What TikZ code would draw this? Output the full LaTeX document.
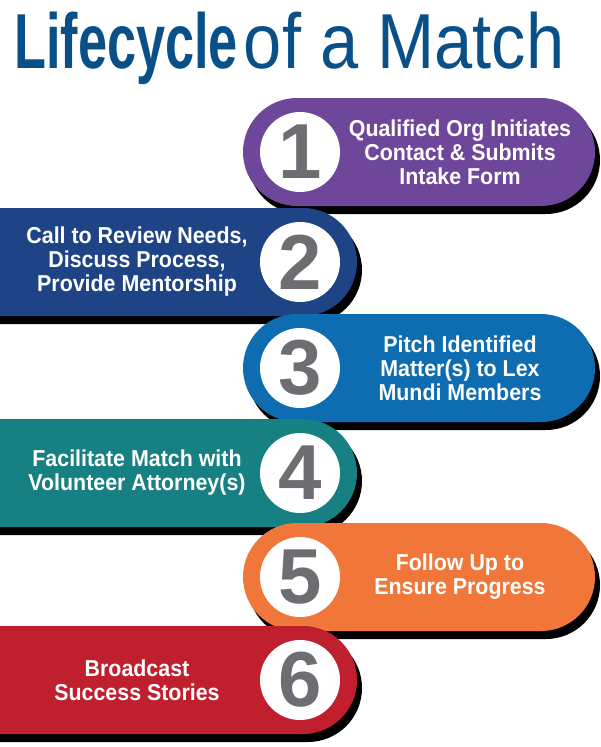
\documentclass[tikz,border=0pt]{standalone}
\usepackage{fontspec}
\setmainfont{Liberation Sans}
\definecolor{tblue}{HTML}{0A5088}
\definecolor{c1}{HTML}{6E479B}
\definecolor{c2}{HTML}{1E4486}
\definecolor{c3}{HTML}{0E6DB0}
\definecolor{c4}{HTML}{178082}
\definecolor{c5}{HTML}{F0763A}
\definecolor{c6}{HTML}{C0202E}
\definecolor{numgray}{HTML}{6D6E71}
\tikzset{
  lbl/.style={text=white,font=\bfseries\fontsize{23}{24}\selectfont,align=center},
  num/.style={circle,fill=white,minimum size=80pt,inner sep=0pt,text=numgray,font=\bfseries\fontsize{78}{78}\selectfont},
}
\newcommand{\cond}[1]{\scalebox{0.8}[1]{#1}}
\begin{document}
\begin{tikzpicture}[x=1pt,y=1pt]
\useasboundingbox (0,0) rectangle (600,-747);
\node[anchor=base west,inner sep=0pt,text=tblue] (title) at (14,-68)
  {\scalebox{0.67}[1]{\bfseries\fontsize{78}{78}\selectfont Lifecycle}\hspace{6pt}\scalebox{0.88}[1]{\fontsize{78}{78}\selectfont of a Match}};
\foreach \c/\y/\side/\n/\txt in {
  c1/152/R/1/{Qualified Org Initiates\\Contact \& Submits\\Intake Form},
  c2/262/L/2/{Call to Review Needs,\\Discuss Process,\\Provide Mentorship},
  c3/368/R/3/{Pitch Identified\\Matter(s) to Lex\\Mundi Members},
  c4/473/L/4/{Facilitate Match with\\Volunteer Attorney(s)},
  c5/577/R/5/{Follow Up to\\Ensure Progress},
  c6/680/L/6/{Broadcast\\Success Stories}}{
  \if\side R
    \fill[black,rounded corners=54pt] (248,-\y+46) rectangle (600,-\y-62);
    \fill[\c,rounded corners=54pt] (243,-\y+54) rectangle (595,-\y-54);
    \node[lbl] (t\n) at (460,-\y) {\scalebox{0.93}[1]{\parbox{300pt}{\centering\txt}}};
  \else
    \fill[black,rounded corners=54pt] (-55,-\y+46) rectangle (362,-\y-62);
    \fill[\c,rounded corners=54pt] (-60,-\y+54) rectangle (357,-\y-54);
    \node[lbl] (t\n) at (137,-\y) {\scalebox{0.93}[1]{\parbox{300pt}{\centering\txt}}};
  \fi
  \node[num] (n\n) at (300,-\y) {\n};
}
\end{tikzpicture}
\end{document}
